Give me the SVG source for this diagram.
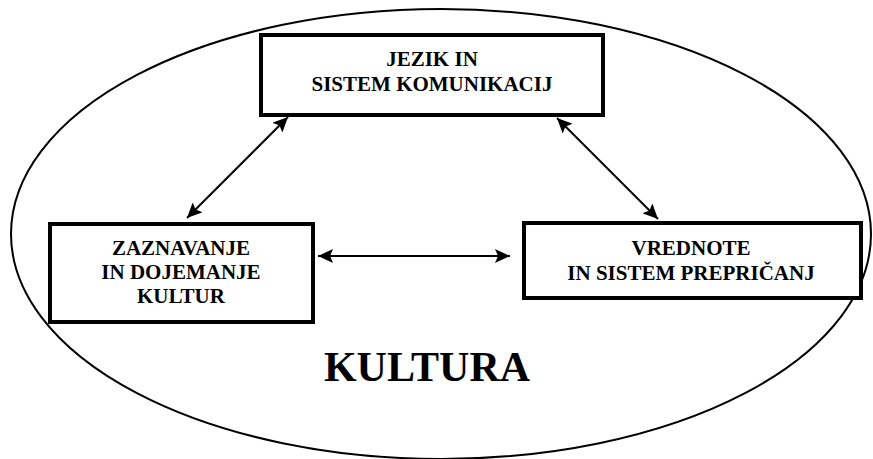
<svg xmlns="http://www.w3.org/2000/svg" width="873" height="459" viewBox="0 0 873 459">
<style>
.box{fill:#fff;stroke:#000;stroke-width:4}
.t{font-weight:bold;font-size:21px;text-anchor:middle;fill:#000}
.conn{stroke:#000;stroke-width:2;fill:none;marker-start:url(#ah);marker-end:url(#ah)}
</style>
<defs>
<marker id="ah" markerUnits="userSpaceOnUse" markerWidth="16" markerHeight="14" refX="15" refY="7" orient="auto-start-reverse">
<path d="M0,0 L15,7 L0,14 L3,7 Z" fill="#000"/>
</marker>
</defs>
<rect width="873" height="459" fill="#fff"/>
<ellipse id="kultura-ellipse" cx="441" cy="234" rx="430" ry="225" fill="none" stroke="#000" stroke-width="2"/>
<g id="connectors">
<line class="conn" x1="288" y1="117" x2="187" y2="218"/>
<line class="conn" x1="557" y1="118" x2="658" y2="219"/>
<line class="conn" x1="318" y1="256" x2="510" y2="256"/>
</g>
<g font-family="Liberation Serif, Times New Roman, Tinos, Noto Serif, DejaVu Serif, serif">
<g id="jezik">
<rect class="box" x="261" y="35" width="342" height="80"/>
<text class="t" x="432" y="66">JEZIK IN</text>
<text class="t" x="432" y="91">SISTEM KOMUNIKACIJ</text>
</g>
<g id="zaznavanje">
<rect class="box" x="50" y="224" width="263" height="98"/>
<text class="t" x="181" y="255">ZAZNAVANJE</text>
<text class="t" x="181" y="279">IN DOJEMANJE</text>
<text class="t" x="181" y="303">KULTUR</text>
</g>
<g id="vrednote">
<rect class="box" x="524" y="223" width="337" height="75"/>
<text class="t" x="691" y="255">VREDNOTE</text>
<text class="t" x="691" y="280">IN SISTEM PREPRIČANJ</text>
</g>
<g id="label">
<text x="427" y="381" font-weight="bold" font-size="42" text-anchor="middle">KULTURA</text>
</g>
</g>
</svg>
